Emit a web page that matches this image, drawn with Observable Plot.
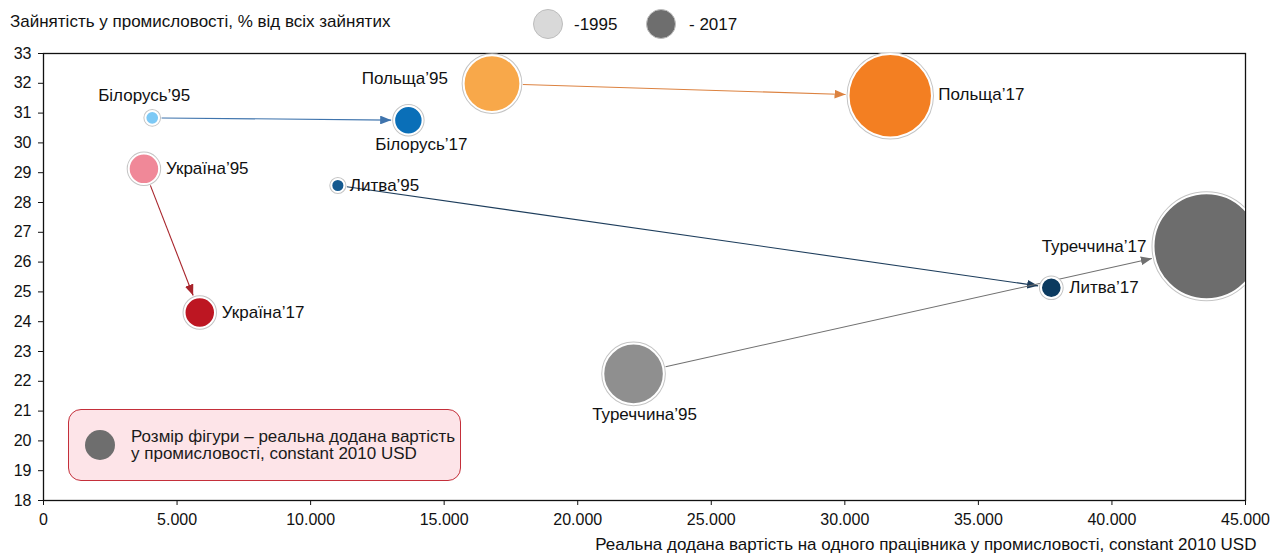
<!DOCTYPE html>
<html>
<head>
<meta charset="utf-8">
<script src="https://cdn.jsdelivr.net/npm/d3@7"></script>
<script src="https://cdn.jsdelivr.net/npm/@observablehq/plot@0.6"></script>
<style>
  body { margin: 0; background: #fff; font-family: "Liberation Sans", Arial, sans-serif; color: #111; }
  #wrap { position: relative; width: 1272px; height: 559px; overflow: hidden; }
  #head { position: relative; height: 40px; font-size: 17px; }
  #ytitle { position: absolute; left: 10px; top: 12px; line-height: 19px; white-space: nowrap; }
  .lc { position: absolute; width: 30px; height: 30px; border-radius: 50%; box-sizing: border-box; }
  .lt { position: absolute; top: 15px; line-height: 19px; white-space: nowrap; }
  #note { position: absolute; left: 68px; top: 409px; width: 393px; height: 72px; box-sizing: border-box;
          background: #fde4e8; border: 1.3px solid #c42f3a; border-radius: 13px; font-size: 17px; }
  #note .c { position: absolute; left: 16px; top: 20px; width: 30px; height: 30px; border-radius: 50%; background: #6e6e6e; }
  #note .t { position: absolute; left: 62px; top: 19px; line-height: 16.5px; white-space: nowrap; color: #1a1a1a; }
</style>
</head>
<body>
<div id="wrap">
  <div id="head">
    <div id="ytitle">Зайнятість у промисловості, % від всіх зайнятих</div>
    <div class="lc" style="left:533px;top:9px;background:#d9d9d9;border:1px solid #bdbdbd;"></div>
    <div class="lt" style="left:574px;">-1995</div>
    <div class="lc" style="left:646px;top:9px;background:#6e6e6e;border:1px solid #bdbdbd;"></div>
    <div class="lt" style="left:689px;">- 2017</div>
  </div>
  <div id="chart"></div>
  <div id="note"><div class="c"></div><div class="t">Розмір фігури – реальна додана вартість<br>у промисловості, constant 2010 USD</div></div>
</div>
<script>
// ---- data ----
const countries = ["Білорусь", "Польща", "Україна", "Литва", "Туреччина"];
// real value added per worker in industry, constant 2010 USD
const x1995 = [4070, 16790, 3760, 11020, 22090];
const x2017 = [13660, 31700, 5850, 37730, 43540];
// employment in industry, % of total employment
const y1995 = [30.84, 31.99, 29.13, 28.57, 22.25];
const y2017 = [30.76, 31.58, 24.31, 25.14, 26.53];
// real value added in industry (bubble size), bn constant 2010 USD
const va1995 = [2.5, 43, 12.4, 2.3, 49];
const va2017 = [10.8, 93, 12.4, 5.7, 150];
const color1995 = ["#7dc9f5", "#f8a84a", "#f08898", "#14598f", "#8f8f8f"];
const color2017 = ["#0a6fb8", "#f37f22", "#bd1622", "#0b3a5f", "#6d6d6d"];
const arrowColor = ["#3f74ad", "#dc8240", "#a8242b", "#1d3d5c", "#707070"];
const xTicks = [0, 5000, 10000, 15000, 20000, 25000, 30000, 35000, 40000, 45000];
const yTicks = [18, 19, 20, 21, 22, 23, 24, 25, 26, 27, 28, 29, 30, 31, 32, 33];
const xLabel = "Реальна додана вартість на одного працівника у промисловості, constant 2010 USD";

// ---- build ----
const fmt = d3.formatLocale({decimal: ",", thousands: ".", grouping: [3], currency: ["", ""]}).format(",.0f");

const rows = countries.flatMap((c, i) => [
  {country: c, year: "95", x: x1995[i], y: y1995[i], va: va1995[i], color: color1995[i]},
  {country: c, year: "17", x: x2017[i], y: y2017[i], va: va2017[i], color: color2017[i]}
]);

const FONT = "'Liberation Sans', Arial, sans-serif";
const base = {
  width: 1272, height: 519,
  marginLeft: 43, marginRight: 27, marginTop: 13, marginBottom: 59,
  style: {fontFamily: FONT, fontSize: "16px", color: "#111", background: "white", overflow: "visible"},
  x: {domain: [0, 45000], ticks: xTicks, tickFormat: fmt, tickSize: 5, tickPadding: 8, label: null},
  y: {domain: [18, 33], ticks: yTicks, tickSize: 5, tickPadding: 7, label: null},
  r: {type: "sqrt", domain: [0, 150], range: [0, 53]}
};

// first pass: obtain the library's scales
const probe = Plot.plot({...base, marks: [Plot.dot(rows, {x: "x", y: "y", r: "va"})]});
function lin(s) {
  const d = d3.scaleLinear(s.domain, s.range);
  return {f: s.apply ? v => s.apply(v) : d, inv: s.invert ? v => s.invert(v) : v => d.invert(v)};
}
const SX = lin(probe.scale("x")), SY = lin(probe.scale("y"));
const sr = probe.scale("r");
const fr = sr.apply ? v => sr.apply(v) : d3.scalePow().exponent(0.5).domain(sr.domain).range(sr.range);

const arrows = countries.map((c, i) => {
  const ax = SX.f(x1995[i]), ay = SY.f(y1995[i]);
  const bx = SX.f(x2017[i]), by = SY.f(y2017[i]);
  const L = Math.hypot(bx - ax, by - ay), ux = (bx - ax) / L, uy = (by - ay) / L;
  const s = fr(va1995[i]) + 2.5, e = fr(va2017[i]) + 3;
  return {country: c, color: arrowColor[i],
    x1: SX.inv(ax + ux * s), y1: SY.inv(ay + uy * s),
    x2: SX.inv(bx - ux * e), y2: SY.inv(by - uy * e)};
});

function label(i, year, opts) {
  const r = rows[i * 2 + (year === "17" ? 1 : 0)];
  return Plot.text([r], {x: "x", y: "y", text: d => d.country + "’" + d.year,
    fill: "#111", fontSize: 17, ...opts});
}

const chart = Plot.plot({
  ...base,
  marks: [
    Plot.frame({stroke: "#111", strokeWidth: 1.3}),
    Plot.link(arrows, {x1: "x1", y1: "y1", x2: "x2", y2: "y2", stroke: d => d.color, strokeWidth: 1.1}),
    Plot.dot(rows, {x: "x", y: "y", r: "va", fill: "none", stroke: "#c4c4c4", strokeWidth: 4, clip: true}),
    Plot.dot(rows, {x: "x", y: "y", r: "va", fill: d => d.color, stroke: "white", strokeWidth: 2, clip: true}),
    label(0, "95", {dx: -8, dy: -22}),
    label(0, "17", {dx: 13, dy: 24}),
    label(1, "95", {dx: -44, dy: -5, textAnchor: "end"}),
    label(1, "17", {dx: 48, dy: -1, textAnchor: "start"}),
    label(2, "95", {dx: 22, textAnchor: "start"}),
    label(2, "17", {dx: 22, textAnchor: "start"}),
    label(3, "95", {dx: 12, textAnchor: "start"}),
    label(3, "17", {dx: 18, textAnchor: "start"}),
    label(4, "95", {dx: 11, dy: 41}),
    label(4, "17", {dx: -60, textAnchor: "end"}),
    Plot.text([xLabel], {frameAnchor: "bottom-right", dx: 11, dy: 49, text: d => d, textAnchor: "end", fill: "#111", fontSize: 17})
  ]
});

// filled triangular arrowheads for the links
const svg = d3.select(chart);
const defs = svg.insert("defs", ":first-child");
svg.selectAll('g[aria-label="link"] path').each(function(d, k) {
  const p = d3.select(this);
  const col = p.attr("stroke") || "#555";
  const id = "ah" + k;
  const m = defs.append("marker").attr("id", id).attr("viewBox", "0 0 10 8")
    .attr("refX", 10).attr("refY", 4).attr("markerWidth", 11).attr("markerHeight", 8.8)
    .attr("markerUnits", "userSpaceOnUse").attr("orient", "auto");
  m.append("path").attr("d", "M0,0L10,4L0,8Z").attr("fill", col);
  p.attr("marker-end", `url(#${id})`);
});
svg.selectAll('g[aria-label="x-axis"] path, g[aria-label="y-axis"] path, g[aria-label="x-axis tick"] path, g[aria-label="y-axis tick"] path').attr("stroke", "#111");

document.getElementById("chart").appendChild(chart);
</script>
</body>
</html>
